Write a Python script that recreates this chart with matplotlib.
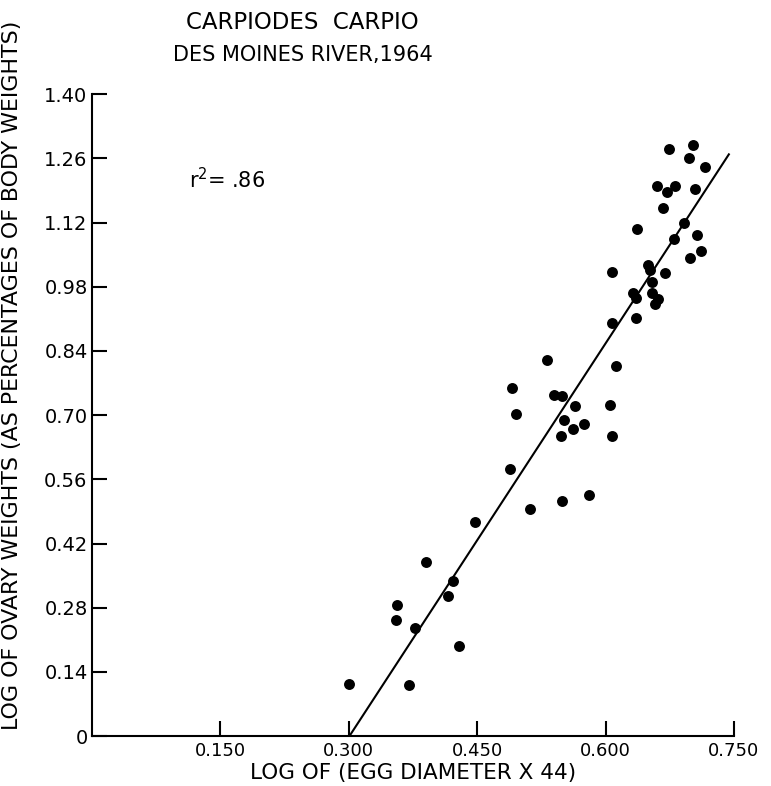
import matplotlib.pyplot as plt

# log of (egg diameter x 44) vs log of ovary weight (% of body weight)
egg_diam = [0.300, 0.370, 0.356, 0.355, 0.377, 0.429, 0.390, 0.422, 0.416, 0.447,
            0.489, 0.512, 0.549, 0.581, 0.491, 0.496, 0.532, 0.540, 0.549, 0.564,
            0.551, 0.562, 0.575, 0.548, 0.605, 0.607, 0.612, 0.607, 0.636, 0.632,
            0.636, 0.654, 0.661, 0.658, 0.654, 0.650, 0.652, 0.669, 0.607, 0.637,
            0.680, 0.692, 0.707, 0.711, 0.699, 0.667, 0.660, 0.672, 0.681, 0.704,
            0.674, 0.702, 0.697, 0.716]
ovary_wt = [0.113, 0.111, 0.286, 0.253, 0.236, 0.196, 0.379, 0.338, 0.305, 0.467,
            0.582, 0.495, 0.512, 0.526, 0.759, 0.702, 0.820, 0.744, 0.741, 0.720,
            0.689, 0.669, 0.680, 0.654, 0.722, 0.654, 0.807, 0.901, 0.911, 0.966,
            0.955, 0.966, 0.953, 0.942, 0.990, 1.027, 1.016, 1.010, 1.012, 1.106,
            1.084, 1.119, 1.092, 1.058, 1.042, 1.151, 1.199, 1.186, 1.199, 1.193,
            1.280, 1.289, 1.260, 1.241]

# fitted line end points
fit_x = [0.301, 0.744]
fit_y = [0.0, 1.269]

x_ticks = [0.15, 0.30, 0.45, 0.60, 0.75]
x_labels = ['0.150', '0.300', '0.450', '0.600', '0.750']
y_ticks = [0, 0.14, 0.28, 0.42, 0.56, 0.70, 0.84, 0.98, 1.12, 1.26, 1.40]
y_labels = ['0', '0.14', '0.28', '0.42', '0.56', '0.70', '0.84', '0.98', '1.12', '1.26', '1.40']

plt.rcParams['font.family'] = ['DejaVu Sans']

fig = plt.figure(figsize=(7.71, 7.86), dpi=100)
ax = fig.add_axes([0.119, 0.0636, 0.833, 0.8164])

ax.scatter(egg_diam, ovary_wt, s=62, color='black', zorder=3, linewidths=0)
ax.plot(fit_x, fit_y, color='black', lw=1.5)

ax.set_xlim(0, 0.75)
ax.set_ylim(0, 1.40)
ax.set_xticks(x_ticks)
ax.set_xticklabels(x_labels)
ax.set_yticks(y_ticks)
ax.set_yticklabels(y_labels)
ax.tick_params(direction='in', length=11, width=1.5, labelsize=13, pad=4)
ax.tick_params(axis='y', labelsize=14, pad=3)
for s in ['top', 'right']:
    ax.spines[s].set_visible(False)
for s in ['left', 'bottom']:
    ax.spines[s].set_linewidth(1.5)

ax.set_xlabel('LOG OF (EGG DIAMETER X 44)', fontsize=15.5)
ax.xaxis.set_label_coords(0.5, -0.042)
ax.set_ylabel('LOG OF OVARY WEIGHTS (AS PERCENTAGES OF BODY WEIGHTS)', fontsize=15.9)
ax.yaxis.set_label_coords(-0.108, 0.562)

fig.text(0.392, 0.972, 'CARPIODES  CARPIO', ha='center', va='center', fontsize=16.5)
fig.text(0.393, 0.930, 'DES MOINES RIVER,1964', ha='center', va='center', fontsize=15)
ax.text(0.113, 1.215, r'r$^2$= .86', fontsize=15, ha='left', va='center')

fig.savefig('out.png', dpi=100)
